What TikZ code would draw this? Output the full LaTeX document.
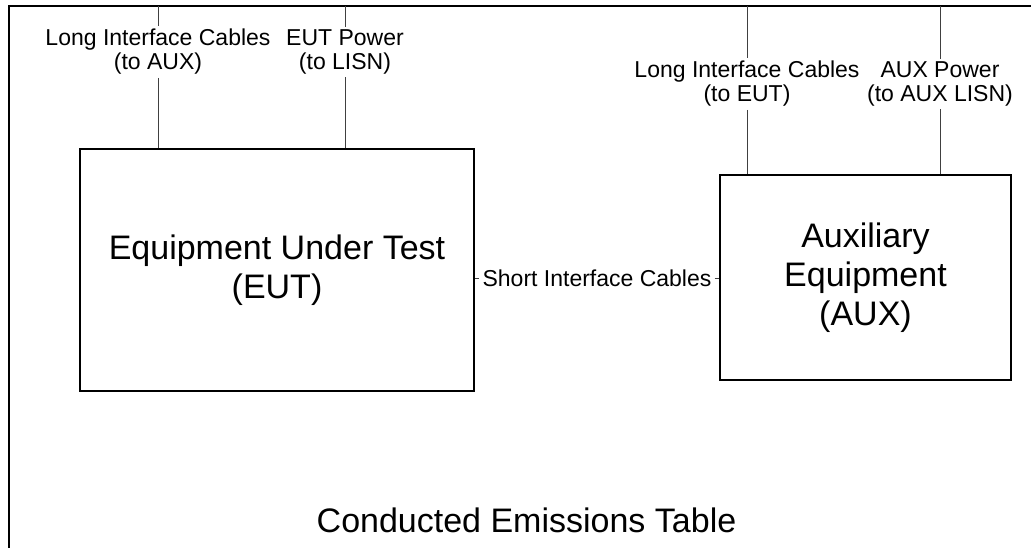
\documentclass[tikz,border=0pt]{standalone}
\usepackage{fontspec}
\setmainfont{Liberation Sans}
\begin{document}
\begin{tikzpicture}[x=1pt,y=-1pt,
  tableline/.style={line width=2pt,black},
  boxnode/.style={draw,line width=2pt,align=center,font=\fontsize{34}{39}\selectfont,inner sep=0pt},
  cablelabel/.style={align=center,font=\fontsize{23}{24}\selectfont,inner xsep=1pt,inner ysep=3pt},
  cable/.style={line width=1pt,black!75}]
\useasboundingbox (0,0) rectangle (1031,548);
% table edges
\coordinate (tr) at (1031,6);
\coordinate (tl) at (9,6);
\coordinate (bl) at (9,548);
\draw[tableline] (tr) -- (tl) -- (bl);
% boxes
\node[boxnode,minimum width=394pt,minimum height=242pt] (eut) at (277,270) {Equipment Under Test\\(EUT)};
\node[boxnode,minimum width=291pt,minimum height=205pt] (aux) at (865.5,277.5) {Auxiliary\\Equipment\\(AUX)};
% cable labels
\node[cablelabel] (l1) at (158,52) {Long Interface Cables\\(to AUX)};
\node[cablelabel] (l2) at (345,52) {EUT Power\\(to LISN)};
\node[cablelabel] (l3) at (747,84) {Long Interface Cables\\(to EUT)};
\node[cablelabel] (l4) at (940,84) {AUX Power\\(to AUX LISN)};
\node[cablelabel,inner xsep=3pt] (sic) at (597,278) {Short Interface Cables};
% top anchors
\coordinate (t1) at (158,6);
\coordinate (t2) at (345,6);
\coordinate (t3) at (747,6);
\coordinate (t4) at (940,6);
\draw[cable] (t1) -- (l1.north);
\draw[cable] (l1.south) -- (l1.south |- eut.north);
\draw[cable] (t2) -- (l2.north);
\draw[cable] (l2.south) -- (l2.south |- eut.north);
\draw[cable] (t3) -- (l3.north);
\draw[cable] (l3.south) -- (l3.south |- aux.north);
\draw[cable] (t4) -- (l4.north);
\draw[cable] (l4.south) -- (l4.south |- aux.north);
\draw[cable] (eut.east |- sic) -- (sic.west);
\draw[cable] (sic.east) -- (aux.west |- sic);
% title
\node[font=\fontsize{34}{39}\selectfont] (title) at (526.5,520) {Conducted Emissions Table};
\end{tikzpicture}
\end{document}
